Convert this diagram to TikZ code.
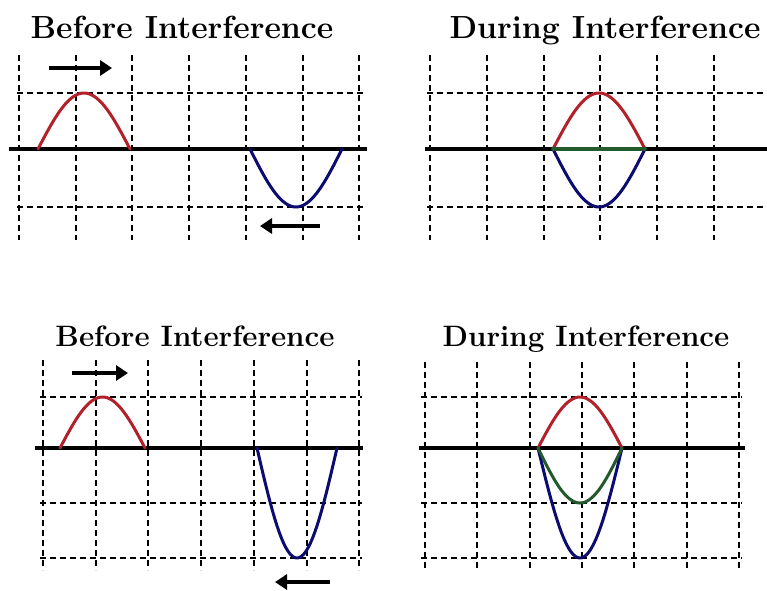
\documentclass[tikz,border=0pt]{standalone}
\usepackage{xcolor}
\usepackage{tikz}
\usetikzlibrary{arrows.meta}

\definecolor{pulsered}{RGB}{178,32,42}
\definecolor{pulseblue}{RGB}{12,12,112}
\definecolor{pulsegreen}{RGB}{34,90,44}

\begin{document}
\begin{tikzpicture}[x=1pt, y=-1pt,
  gridln/.style={line width=2pt, dash pattern=on 6pt off 4pt},
  axis/.style={line width=3.6pt},
  pulse/.style={line width=3pt, line join=round, line cap=round},
  mov/.style={-{Triangle[length=12pt, width=15pt]}, line width=4.4pt},
  ttl/.style={font=\fontsize{32}{34}\selectfont\bfseries, anchor=base},
  ttlb/.style={font=\fontsize{29.5}{32}\selectfont\bfseries, anchor=base}]
\useasboundingbox (0,0) rectangle (767,590);
% --- top left: before ---
\node[ttl] (tlT) at (182,38) {Before Interference};
\foreach \i in {0,...,6} \draw[gridln] ({19+56.7*\i},55) -- ({19+56.7*\i},240);
\foreach \y in {93,207} \draw[gridln] (17,\y) -- (363,\y);
\draw[axis] (9,149) -- (367,149);
\draw[pulse, pulsered] plot[domain=0:180, samples=37] ({38+\x/180*92},{149-56*sin(\x)});
\draw[pulse, pulseblue] plot[domain=0:180, samples=37] ({250+\x/180*92},{149+58*sin(\x)});
\coordinate (tlA) at (49,68);  \coordinate (tlB) at (112,68);
\coordinate (tlC) at (320,226); \coordinate (tlD) at (260,226);
\draw[mov] (tlA) -- (tlB);
\draw[mov] (tlC) -- (tlD);
% --- top right: during ---
\node[ttl] (trT) at (605,38) {During Interference};
\foreach \i in {0,...,5} \draw[gridln] ({430+56.8*\i},55) -- ({430+56.8*\i},240);
\foreach \y in {93,207} \draw[gridln] (427,\y) -- (767,\y);
\draw[axis] (425,149) -- (767,149);
\draw[pulse, pulsered] plot[domain=0:180, samples=37] ({553+\x/180*92},{149-56*sin(\x)});
\draw[pulse, pulseblue] plot[domain=0:180, samples=37] ({553+\x/180*92},{149+58*sin(\x)});
\draw[pulse, pulsegreen, line width=3.6pt] (553,149) -- (645,149);
% --- bottom left: before ---
\node[ttlb] (blT) at (195,346) {Before Interference};
\foreach \i in {0,...,6} \draw[gridln] ({43+52.7*\i},360) -- ({43+52.7*\i},570);
\foreach \y in {397,503,558} \draw[gridln] (40,\y) -- (362,\y);
\draw[axis] (35,448) -- (363,448);
\draw[pulse, pulsered] plot[domain=0:180, samples=37] ({60+\x/180*85},{448-51*sin(\x)});
\draw[pulse, pulseblue] plot[domain=0:180, samples=37] ({257+\x/180*80},{448+110*sin(\x)});
\coordinate (blA) at (72,373);  \coordinate (blB) at (128,373);
\coordinate (blC) at (330,582); \coordinate (blD) at (275,582);
\draw[mov] (blA) -- (blB);
\draw[mov] (blC) -- (blD);
% --- bottom right: during ---
\node[ttlb] (brT) at (586,346) {During Interference};
\foreach \i in {0,...,6} \draw[gridln] ({425+52.3*\i},362) -- ({425+52.3*\i},570);
\foreach \y in {397,503,558} \draw[gridln] (421,\y) -- (742,\y);
\draw[axis] (419,448) -- (745,448);
\draw[pulse, pulsered] plot[domain=0:180, samples=37] ({538+\x/180*84},{448-51*sin(\x)});
\draw[pulse, pulseblue] plot[domain=0:180, samples=37] ({538+\x/180*84},{448+110*sin(\x)});
\draw[pulse, pulsegreen] plot[domain=0:180, samples=37] ({538+\x/180*84},{448+55*sin(\x)});
\end{tikzpicture}
\end{document}
